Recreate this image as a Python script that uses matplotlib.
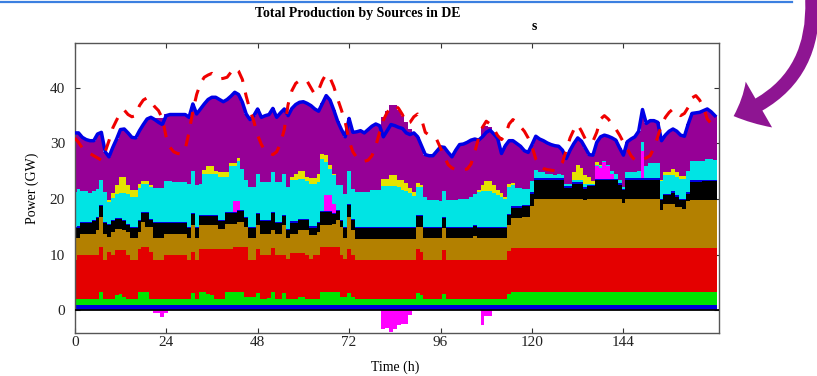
import numpy as np
import matplotlib
matplotlib.use('Agg')
import matplotlib.pyplot as plt
from matplotlib.patches import FancyArrowPatch
from matplotlib.lines import Line2D

plt.rcParams['font.family'] = ['Liberation Serif', 'DejaVu Serif']

# ---------------- data (GW, hourly, one week) ----------------
hours = np.arange(169)

hydro = [
    1.0, 1.0, 1.0, 1.0, 1.0, 1.0, 1.0, 1.0, 1.0, 1.0,
    1.0, 1.0, 1.0, 1.0, 1.0, 1.0, 1.0, 1.0, 1.0, 1.0,
    1.0, 1.0, 1.0, 1.0, 1.0, 1.0, 1.0, 1.0, 1.0, 1.0,
    1.0, 1.0, 1.0, 1.0, 1.0, 1.0, 1.0, 1.0, 1.0, 1.0,
    1.0, 1.0, 1.0, 1.0, 1.0, 1.0, 1.0, 1.0, 1.0, 1.0,
    1.0, 1.0, 1.0, 1.0, 1.0, 1.0, 1.0, 1.0, 1.0, 1.0,
    1.0, 1.0, 1.0, 1.0, 1.0, 1.0, 1.0, 1.0, 1.0, 1.0,
    1.0, 1.0, 1.0, 1.0, 1.0, 1.0, 1.0, 1.0, 1.0, 1.0,
    1.0, 1.0, 1.0, 1.0, 1.0, 1.0, 1.0, 1.0, 1.0, 1.0,
    1.0, 1.0, 1.0, 1.0, 1.0, 1.0, 1.0, 1.0, 1.0, 1.0,
    1.0, 1.0, 1.0, 1.0, 1.0, 1.0, 1.0, 1.0, 1.0, 1.0,
    1.0, 1.0, 1.0, 1.0, 1.0, 1.0, 1.0, 1.0, 1.0, 1.0,
    1.0, 1.0, 1.0, 1.0, 1.0, 1.0, 1.0, 1.0, 1.0, 1.0,
    1.0, 1.0, 1.0, 1.0, 1.0, 1.0, 1.0, 1.0, 1.0, 1.0,
    1.0, 1.0, 1.0, 1.0, 1.0, 1.0, 1.0, 1.0, 1.0, 1.0,
    1.0, 1.0, 1.0, 1.0, 1.0, 1.0, 1.0, 1.0, 1.0, 1.0,
    1.0, 1.0, 1.0, 1.0, 1.0, 1.0, 1.0, 1.0, 1.0]

biomass = [
    1.0, 1.0, 1.0, 1.0, 1.0, 1.0, 1.0, 2.4, 1.0, 1.0,
    1.0, 1.7, 2.0, 1.4, 1.0, 1.0, 1.0, 2.4, 2.4, 2.4,
    1.0, 1.0, 1.0, 1.0, 1.0, 1.0, 1.0, 1.0, 1.0, 1.0,
    1.0, 2.2, 1.0, 2.4, 2.4, 2.0, 1.7, 1.0, 1.0, 1.0,
    2.4, 2.4, 2.4, 2.4, 2.4, 1.4, 1.4, 1.4, 2.2, 1.0,
    1.0, 1.2, 2.4, 1.0, 1.0, 2.2, 1.0, 1.0, 1.0, 1.5,
    1.5, 1.0, 1.0, 1.0, 1.0, 2.4, 2.4, 2.4, 2.4, 2.4,
    1.4, 1.4, 2.2, 1.4, 1.0, 1.0, 1.0, 1.0, 1.0, 1.0,
    1.0, 1.0, 1.0, 1.0, 1.0, 1.0, 1.0, 1.0, 1.0, 1.0,
    2.2, 1.8, 1.0, 1.0, 1.0, 1.0, 1.0, 1.9, 1.0, 1.0,
    1.0, 1.0, 1.0, 1.0, 1.0, 1.0, 1.0, 1.0, 1.0, 1.0,
    1.0, 1.0, 1.0, 1.0, 1.9, 2.4, 2.4, 2.4, 2.4, 2.4,
    2.4, 2.4, 2.4, 2.4, 2.4, 2.4, 2.4, 2.4, 2.4, 2.4,
    2.4, 2.4, 2.4, 2.4, 2.4, 2.4, 2.4, 2.4, 2.4, 2.4,
    2.4, 2.4, 2.4, 2.4, 2.4, 2.4, 2.4, 2.4, 2.4, 2.4,
    2.4, 2.4, 2.4, 2.4, 2.4, 2.4, 2.4, 2.4, 2.4, 2.4,
    2.4, 2.4, 2.4, 2.4, 2.4, 2.4, 2.4, 2.4, 2.4]

nuclear = [
    7.0, 7.9, 7.9, 7.9, 7.9, 7.9, 7.9, 8.0, 7.0, 8.5,
    7.9, 8.1, 7.8, 8.4, 7.9, 7.0, 7.0, 7.7, 8.0, 8.0,
    8.5, 7.0, 7.0, 7.0, 7.9, 7.9, 7.9, 7.9, 7.9, 7.9,
    7.0, 7.3, 7.0, 7.7, 7.7, 8.1, 8.4, 9.1, 9.1, 9.1,
    7.7, 7.7, 8.0, 8.0, 8.0, 9.0, 6.7, 6.7, 7.8, 8.0,
    8.0, 7.8, 7.8, 8.0, 8.0, 6.8, 7.2, 8.4, 8.4, 7.9,
    7.9, 8.0, 7.2, 8.0, 8.0, 8.0, 8.0, 8.0, 8.0, 8.0,
    7.6, 6.8, 7.9, 7.6, 7.0, 7.0, 7.0, 7.0, 7.0, 7.0,
    7.0, 7.0, 7.0, 7.0, 7.0, 7.0, 7.0, 7.0, 7.0, 7.0,
    7.9, 7.7, 7.0, 7.0, 7.0, 7.0, 7.0, 7.9, 7.0, 7.0,
    7.0, 7.0, 7.0, 7.0, 7.0, 7.0, 7.0, 7.0, 7.0, 7.0,
    7.0, 7.0, 7.0, 7.0, 7.7, 7.9, 7.9, 7.9, 7.9, 7.9,
    7.9, 7.9, 7.9, 7.9, 7.9, 7.9, 7.9, 7.9, 7.9, 7.9,
    7.9, 7.9, 7.9, 7.9, 7.9, 7.9, 7.9, 7.9, 7.9, 7.9,
    7.9, 7.9, 7.9, 7.9, 7.9, 7.9, 7.9, 7.9, 7.9, 7.9,
    7.9, 7.9, 7.9, 7.9, 7.9, 7.9, 7.9, 7.9, 7.9, 7.9,
    7.9, 7.9, 7.9, 7.9, 7.9, 7.9, 7.9, 7.9, 7.9]

lignite = [
    4.0, 3.2, 3.9, 3.9, 3.9, 3.9, 4.5, 5.4, 4.8, 2.7,
    4.2, 3.9, 3.9, 3.6, 4.2, 4.0, 4.0, 3.0, 4.5, 3.6,
    4.5, 4.0, 4.0, 4.0, 3.9, 3.9, 3.9, 3.9, 3.9, 3.9,
    4.0, 4.9, 4.0, 4.2, 4.2, 4.2, 4.2, 4.2, 3.6, 3.6,
    4.5, 4.5, 4.2, 4.5, 4.5, 3.6, 3.9, 3.9, 4.4, 3.8,
    3.8, 3.8, 3.2, 3.8, 3.8, 5.3, 3.8, 3.4, 3.4, 4.0,
    4.0, 4.4, 4.3, 3.5, 4.1, 4.0, 4.0, 4.0, 4.2, 4.8,
    5.0, 3.8, 5.7, 4.4, 3.9, 3.9, 3.9, 3.9, 3.9, 3.9,
    3.9, 3.9, 3.9, 3.9, 3.9, 3.9, 3.9, 3.9, 3.9, 3.9,
    3.9, 4.5, 4.0, 4.0, 4.0, 4.0, 4.0, 4.0, 4.0, 4.0,
    4.0, 4.0, 4.0, 4.0, 4.0, 4.3, 4.0, 4.0, 4.0, 4.0,
    4.0, 4.0, 4.0, 4.0, 4.7, 5.3, 5.3, 5.3, 5.5, 5.5,
    7.4, 8.7, 8.7, 8.7, 8.7, 8.7, 8.7, 8.7, 8.7, 8.7,
    8.7, 8.7, 8.7, 8.7, 8.5, 8.7, 8.7, 8.7, 8.7, 8.7,
    8.7, 8.7, 8.7, 8.7, 8.0, 8.7, 8.7, 8.7, 8.7, 8.7,
    8.7, 8.7, 8.7, 8.7, 6.7, 7.9, 7.9, 7.9, 7.3, 7.3,
    7.0, 8.3, 8.5, 8.5, 8.5, 8.5, 8.5, 8.5, 8.5]

hard_coal = [
    1.8, 1.8, 1.9, 1.9, 1.9, 2.3, 2.2, 2.0, 1.9, 2.2,
    1.9, 1.7, 1.7, 1.7, 1.3, 1.8, 1.8, 2.0, 1.6, 2.5,
    1.3, 2.7, 2.7, 2.7, 1.9, 1.9, 1.9, 1.9, 1.9, 1.9,
    1.8, 1.9, 1.8, 1.7, 1.7, 1.7, 1.7, 1.7, 1.4, 1.4,
    1.9, 1.9, 1.9, 2.0, 2.0, 1.6, 1.8, 1.8, 1.9, 2.2,
    2.2, 2.2, 3.1, 1.9, 1.9, 1.7, 1.5, 2.0, 2.0, 1.9,
    1.9, 1.9, 1.4, 1.4, 1.6, 2.2, 2.2, 2.2, 1.7, 1.6,
    1.0, 1.8, 2.2, 1.9, 1.9, 1.9, 1.9, 1.9, 1.9, 1.9,
    1.9, 1.9, 1.9, 1.9, 1.9, 1.9, 1.9, 1.9, 1.9, 1.9,
    2.0, 2.0, 1.8, 1.8, 1.8, 1.8, 1.8, 1.8, 1.8, 1.8,
    1.8, 1.8, 1.8, 1.8, 1.8, 1.8, 1.8, 1.8, 1.8, 1.8,
    1.8, 1.8, 1.8, 1.8, 1.9, 1.8, 1.8, 1.8, 1.9, 1.9,
    2.3, 3.5, 3.5, 3.5, 3.5, 3.5, 3.5, 3.5, 3.5, 2.0,
    2.0, 2.8, 2.8, 2.8, 2.1, 2.3, 2.3, 3.4, 3.4, 3.4,
    3.4, 3.4, 3.4, 2.6, 2.3, 3.5, 3.5, 3.5, 3.5, 3.5,
    3.5, 3.5, 3.5, 3.5, 1.8, 1.5, 1.5, 1.9, 1.8, 1.2,
    1.5, 1.4, 3.3, 3.3, 3.3, 3.4, 3.4, 3.4, 3.4]

gas = [
    0.2, 0.2, 0.2, 0.2, 0.2, 0.2, 0.2, 0.2, 0.2, 0.2,
    0.2, 0.2, 0.2, 0.2, 0.2, 0.2, 0.2, 0.2, 0.2, 0.2,
    0.2, 0.2, 0.2, 0.2, 0.2, 0.2, 0.2, 0.2, 0.2, 0.2,
    0.2, 0.2, 0.2, 0.2, 0.2, 0.2, 0.2, 0.2, 0.2, 0.2,
    0.2, 0.2, 0.2, 0.2, 0.2, 0.2, 0.2, 0.2, 0.2, 0.2,
    0.2, 0.2, 0.2, 0.2, 0.2, 0.2, 0.2, 0.2, 0.2, 0.2,
    0.2, 0.2, 0.2, 0.2, 0.2, 0.2, 0.2, 0.2, 0.2, 0.2,
    0.2, 0.2, 0.2, 0.2, 0.2, 0.2, 0.2, 0.2, 0.2, 0.2,
    0.2, 0.2, 0.2, 0.2, 0.2, 0.2, 0.2, 0.2, 0.2, 0.2,
    0.2, 0.2, 0.2, 0.2, 0.2, 0.2, 0.2, 0.2, 0.2, 0.2,
    0.2, 0.2, 0.2, 0.2, 0.2, 0.2, 0.2, 0.2, 0.2, 0.2,
    0.2, 0.2, 0.2, 0.2, 0.2, 0.3, 0.3, 0.3, 0.3, 0.3,
    0.3, 0.3, 0.3, 0.3, 0.3, 0.3, 0.3, 0.3, 0.3, 0.3,
    0.3, 0.3, 0.3, 0.3, 0.3, 0.3, 0.3, 0.3, 0.3, 0.3,
    0.3, 0.3, 0.3, 0.3, 0.3, 0.3, 0.3, 0.3, 0.3, 0.3,
    0.3, 0.3, 0.3, 0.3, 0.3, 0.3, 0.3, 0.3, 0.3, 0.3,
    0.3, 0.3, 0.3, 0.3, 0.3, 0.3, 0.3, 0.3, 0.3]

pumped_storage = [
    0, 0, 0, 0, 0, 0, 0, 0, 0, 0,
    0, 0, 0, 0, 0, 0, 0, 0, 0, 0,
    0, 0, 0, 0, 0, 0, 0, 0, 0, 0,
    0, 0, 0, 0, 0, 0, 0, 0, 0, 0,
    0, 0, 1.9, 1.5, 0, 0, 0, 0, 0, 0,
    0, 0, 0, 0, 0, 0, 0, 0, 0, 0,
    0, 0, 0, 0, 0, 0, 3.0, 3.0, 1.7, 0,
    0, 0, 0, 0, 0, 0, 0, 0, 0, 0,
    0, 0, 0, 0, 0, 0, 0, 0, 0, 0,
    0, 0, 0, 0, 0, 0, 0, 0, 0, 0,
    0, 0, 0, 0, 0, 0, 0, 0, 0, 0,
    0, 0, 0, 0, 0, 0, 0, 0, 0, 0,
    0, 0, 0, 0, 0, 0, 0, 0, 0, 0,
    0, 0, 0, 0, 0, 0, 0, 2.2, 1.9, 2.9,
    2.2, 0.9, 0, 0, 0, 0, 0, 0, 0, 4.8,
    0, 0, 0, 0, 0, 0, 0, 0, 0, 0,
    0, 0, 0, 0, 0, 0, 0, 0, 0]

wind = [
    6.3, 6.7, 5.5, 5.5, 5.2, 5.2, 5.1, 4.4, 5.4, 3.9,
    4.0, 4.4, 4.5, 4.8, 5.4, 5.4, 5.4, 5.7, 5.1, 5.1,
    5.7, 6.1, 6.1, 6.1, 7.3, 7.3, 7.2, 7.2, 7.2, 7.2,
    7.8, 7.5, 7.5, 5.6, 7.4, 7.4, 7.4, 7.4, 7.7, 7.7,
    6.3, 8.3, 6.4, 7.2, 7.3, 6.7, 7.2, 7.2, 7.1, 6.9,
    6.9, 6.9, 7.2, 7.2, 7.2, 7.3, 7.5, 7.4, 7.4, 7.2,
    7.2, 6.7, 7.7, 7.7, 7.2, 9.4, 5.8, 4.6, 5.1, 4.5,
    6.3, 6.0, 5.8, 5.4, 6.3, 6.3, 6.3, 6.3, 6.7, 6.7,
    6.7, 7.3, 7.3, 7.3, 7.3, 7.2, 6.6, 6.4, 6.1, 5.5,
    5.0, 5.0, 5.4, 4.9, 4.9, 4.9, 4.6, 4.6, 4.8, 4.8,
    4.8, 5.1, 5.1, 5.1, 5.4, 5.7, 6.3, 6.5, 6.5, 6.5,
    6.1, 5.7, 5.3, 5.0, 4.8, 3.9, 3.3, 3.3, 2.9, 2.9,
    1.9, 1.5, 1.1, 1.1, 0.8, 0.8, 0.6, 0.7, 0.6, 0.5,
    0.5, 0.3, 0.4, 0.4, 0.6, 0.2, 0.2, 0.3, 0.4, 0.3,
    0.3, 0.4, 0.9, 0.5, 0.3, 1.1, 1.1, 1.1, 1.3, 1.6,
    2.2, 2.7, 2.7, 2.7, 3.1, 3.3, 3.3, 3.0, 3.3, 3.6,
    3.6, 3.8, 3.5, 3.5, 3.5, 3.4, 3.7, 3.7, 3.6]

solar = [
    0, 0, 0, 0, 0, 0, 0, 0, 0, 0.3,
    0.9, 1.5, 2.9, 2.9, 1.5, 1.2, 1.2, 0.8, 0.4, 0.4,
    0.4, 0, 0, 0, 0, 0, 0, 0, 0, 0,
    0, 0, 0, 0, 0.7, 1.4, 1.4, 0.5, 0.9, 0.9,
    0.9, 0.5, 0.5, 0.6, 0, 0, 0, 0, 0, 0,
    0, 0, 0, 0, 0, 0, 0, 0.5, 1.2, 1.4,
    1.4, 0.8, 1.0, 1.0, 1.5, 0.9, 1.4, 0.8, 0.3, 0,
    0, 0, 0, 0, 0, 0, 0, 0, 0, 0,
    0, 1.4, 1.4, 2.0, 2.0, 1.3, 1.9, 1.5, 0.9, 0.8,
    0.7, 0.3, 0, 0, 0, 0, 0, 0, 0, 0,
    0, 0, 0, 0, 0, 0, 0.4, 1.1, 1.7, 1.7,
    1.4, 1.0, 0.8, 0.4, 0.6, 0.3, 0, 0, 0, 0,
    0, 0, 0, 0, 0, 0, 0, 0, 0, 0,
    0, 1.5, 2.7, 2.1, 1.6, 1.2, 0.5, 0.4, 0.1, 0,
    0, 0, 0, 0, 0, 0, 0, 0, 0, 0,
    0, 0, 0, 0, 0.3, 0.6, 0.6, 1.0, 0.9, 0.4,
    0.4, 0, 0, 0, 0, 0, 0, 0, 0]

other = [
    10.6, 10.2, 9.7, 9.3, 9.4, 9.0, 9.8, 8.6, 7.2, 7.8,
    8.2, 8.3, 8.5, 8.6, 9.4, 9.5, 9.4, 9.5, 10.2, 11.2,
    12.1, 12.6, 12.6, 12.5, 12.1, 12.0, 12.1, 12.1, 12.1, 12.1,
    11.9, 12.1, 12.8, 13.4, 11.8, 11.9, 12.3, 13.2, 13.0, 12.6,
    13.0, 12.0, 12.7, 11.4, 12.0, 11.8, 12.1, 12.8, 11.6, 11.6,
    11.9, 12.1, 11.4, 11.6, 12.4, 11.7, 12.8, 12.4, 12.4, 12.3,
    12.4, 13.2, 13.0, 12.4, 11.2, 9.1, 10.6, 11.6, 11.4, 11.5,
    10.0, 10.2, 9.5, 10.1, 10.8, 11.0, 10.6, 11.2, 11.4, 11.8,
    11.7, 11.0, 12.2, 12.6, 12.6, 12.5, 11.5, 10.9, 10.6, 10.6,
    8.3, 7.1, 7.6, 7.9, 7.9, 8.7, 9.8, 7.9, 8.6, 7.8,
    9.0, 9.7, 9.8, 10.1, 10.2, 9.8, 8.9, 10.4, 10.0, 9.7,
    9.2, 9.2, 7.1, 9.2, 7.7, 7.6, 8.0, 7.5, 6.8, 6.5,
    6.6, 6.0, 5.9, 5.6, 5.5, 5.2, 5.2, 5.0, 4.4, 4.5,
    6.0, 5.1, 4.8, 4.8, 4.8, 4.0, 4.6, 3.6, 5.1, 4.6,
    5.1, 6.0, 6.0, 5.8, 5.7, 5.4, 5.9, 6.3, 7.1, 5.9,
    7.6, 7.6, 7.6, 7.3, 7.0, 6.6, 7.3, 7.2, 7.3, 7.4,
    7.2, 8.4, 8.5, 8.6, 8.7, 9.0, 9.0, 8.5, 7.9]

pumping_load = [
    0, 0, 0, 0, 0, 0, 0, 0, 0, 0,
    0, 0, 0, 0, 0, 0, 0, 0, 0, 0,
    0, -0.4, -0.4, -1.2, -0.4, 0, 0, 0, 0, 0,
    0, 0, 0, 0, 0, 0, 0, 0, 0, 0,
    0, 0, 0, 0, 0, 0, 0, 0, 0, 0,
    0, 0, 0, 0, 0, 0, 0, 0, 0, 0,
    0, 0, 0, 0, 0, 0, 0, 0, 0, 0,
    0, 0, 0, 0, 0, 0, 0, 0, 0, 0,
    0, -3.3, -3.1, -3.9, -3.4, -2.7, -2.4, -2.5, -0.9, 0,
    0, 0, 0, 0, 0, 0, 0, 0, 0, 0,
    0, 0, 0, 0, 0, 0, 0, -2.7, -1.0, -1.0,
    0, 0, 0, 0, 0, 0, 0, 0, 0, 0,
    0, 0, 0, 0, 0, 0, 0, 0, 0, 0,
    0, 0, 0, 0, 0, 0, 0, 0, 0, 0,
    0, 0, 0, 0, 0, 0, 0, 0, 0, 0,
    0, 0, 0, 0, 0, 0, 0, 0, 0, 0,
    0, 0, 0, 0, 0, 0, 0, 0, 0]

net_production = [
    31.9, 31.9, 31.1, 30.7, 30.5, 30.5, 31.7, 32.0, 28.5, 27.6,
    29.3, 30.8, 32.5, 32.6, 31.9, 31.1, 31.0, 32.3, 33.4, 34.4,
    34.7, 34.3, 33.8, 33.4, 35.0, 35.2, 35.2, 35.2, 35.2, 35.2,
    34.7, 37.1, 35.3, 36.2, 37.1, 37.9, 38.3, 38.3, 37.9, 37.5,
    37.9, 38.5, 39.2, 38.8, 37.4, 35.3, 34.3, 35.0, 36.2, 34.7,
    35.0, 35.2, 36.3, 34.7, 35.5, 36.2, 35.0, 36.3, 37.0, 37.4,
    37.5, 37.2, 36.8, 36.2, 35.8, 37.2, 38.6, 37.8, 36.0, 34.0,
    32.5, 31.2, 34.5, 32.0, 32.1, 32.3, 31.9, 32.5, 33.1, 33.5,
    33.2, 31.2, 32.3, 33.4, 33.2, 32.9, 32.7, 31.9, 31.6, 31.9,
    31.2, 29.6, 28.0, 27.8, 27.8, 28.6, 29.4, 29.3, 28.4, 27.6,
    28.8, 29.8, 29.9, 30.2, 30.6, 30.8, 30.6, 31.2, 32.0, 32.4,
    31.7, 30.9, 28.2, 29.6, 30.5, 30.5, 30.0, 29.5, 28.7, 28.4,
    29.8, 31.3, 30.8, 30.5, 30.1, 29.8, 29.6, 29.5, 28.8, 27.3,
    28.8, 30.0, 31.0, 30.4, 29.2, 28.0, 27.9, 30.2, 31.2, 31.5,
    31.3, 31.0, 30.6, 29.2, 27.9, 30.3, 30.8, 31.2, 32.2, 36.1,
    33.6, 34.1, 34.1, 33.8, 30.5, 31.5, 32.2, 32.6, 32.2, 31.5,
    31.3, 33.5, 35.4, 35.5, 35.6, 35.9, 36.2, 35.7, 35.0]

load = [
    31.0, 30.2, 29.2, 28.6, 28.2, 27.8, 27.4, 27.0, 28.5, 30.5,
    32.8, 34.2, 35.5, 36.0, 35.2, 34.8, 35.0, 36.8, 37.8, 38.2,
    37.5, 36.6, 35.9, 34.5, 31.2, 29.3, 28.5, 28.2, 28.1, 29.0,
    32.0, 35.8, 38.8, 40.8, 41.9, 42.3, 42.6, 42.0, 41.6, 41.7,
    41.9, 42.8, 43.6, 43.0, 41.5, 38.5, 36.0, 34.0, 31.5, 29.8,
    28.6, 28.3, 28.0, 28.5, 30.0, 32.5, 37.0, 39.5, 40.8, 41.3,
    41.5, 41.2, 40.0, 38.8, 39.6, 41.3, 42.5, 41.8, 40.2, 38.0,
    36.0, 33.8, 30.5, 28.5, 27.5, 26.9, 26.8, 27.0, 27.8, 29.5,
    32.0, 34.2, 35.6, 36.4, 36.9, 36.3, 35.2, 33.6, 33.8, 34.8,
    35.3, 34.4, 32.0, 31.5, 31.2, 30.7, 29.2, 27.6, 26.2, 25.6,
    25.3, 25.2, 25.3, 25.4, 26.3, 28.5, 31.0, 32.9, 34.0, 33.5,
    32.6, 31.4, 30.7, 31.5, 33.5, 34.3, 33.8, 33.0, 32.2, 31.0,
    29.5, 27.2, 26.0, 25.5, 25.3, 25.2, 25.1, 25.6, 26.6, 28.8,
    31.0, 32.5, 33.4, 32.2, 30.8, 30.2, 30.4, 32.0, 34.4, 35.0,
    34.4, 33.5, 32.6, 31.5, 30.2, 29.0, 27.8, 27.0, 26.8, 27.1,
    27.4, 27.8, 29.2, 31.2, 33.3, 34.7, 35.6, 36.2, 35.7, 35.0,
    35.4, 36.5, 38.2, 38.6, 37.8, 36.5, 34.4, 33.6, 33.2]

x_ticks = [0, 24, 48, 72, 96, 120, 144]
y_ticks = [0, 10, 20, 30, 40]

source_names = ['Hydro', 'Biomass', 'Nuclear', 'Lignite', 'Hard coal', 'Gas',
                'Pumped storage', 'Wind', 'Solar', 'Other']
source_values = [hydro, biomass, nuclear, lignite, hard_coal, gas,
                 pumped_storage, wind, solar, other]
source_colors = ['#0000dc', '#00e400', '#e40000', '#b38000', '#000000', '#0000dc',
                 '#ff00ff', '#00e4e4', '#e4e400', '#960096']

for v in source_values + [pumping_load, net_production, load]:
    assert len(v) == len(hours), len(v)

# ---------------- figure ----------------
fig = plt.figure(figsize=(8.17, 3.76), dpi=100)
ax = fig.add_axes([74.7 / 817, 1 - 332.7 / 376, 644.0 / 817, 289.4 / 376])

edges = np.append(hours - 0.5, hours[-1] + 0.5)
cum = np.cumsum(np.array(source_values, dtype=float), axis=0)

# draw from the top of the stack downwards so lower layers cover upper ones
for i in range(len(source_values) - 1, -1, -1):
    ax.stairs(cum[i], edges, baseline=0, fill=True, color=source_colors[i],
              linewidth=0, antialiased=False, zorder=2)

ax.stairs(np.array(pumping_load, float), edges, baseline=0, fill=True,
          color='#ff00ff', linewidth=0, antialiased=False, zorder=2)

ax.axhline(0, color='black', lw=1.3, zorder=3)

ax.plot(hours, net_production, color='#0000e6', lw=2.5, zorder=4,
        solid_joinstyle='round')
ax.plot(hours, load, color='#f00000', lw=2.2, zorder=5,
        linestyle=(0, (3.9, 3.6)))

ax.set_xlim(0, 169)
ax.set_ylim(-4, 48)
ax.set_xticks(x_ticks)
ax.set_yticks(y_ticks)
ax.tick_params(direction='in', top=True, right=True, length=3.8, width=0.8,
               color='#333333', labelsize=11, labelcolor='#222222')
ax.tick_params(axis='y', pad=7)
ax.tick_params(axis='x', pad=2.5)
for s in ax.spines.values():
    s.set_color('#555555')
    s.set_linewidth(1.0)

fig.text(357.5 / 817, 1 - 14 / 376, 'Total Production by Sources in DE',
         ha='center', va='center', fontsize=10, fontweight='bold')
fig.text(534 / 817, 1 - 27 / 376, 's', ha='center', va='center',
         fontsize=10, fontweight='bold')
fig.text(32 / 817, 1 - 188 / 376, 'Power (GW)', rotation=90,
         ha='center', va='center', fontsize=10)
fig.text(395 / 817, 1 - 367 / 376, 'Time (h)', ha='center', va='center',
         fontsize=10)

# decorative top rule and curved arrow
fig.add_artist(Line2D([0, 792 / 817], [1 - 2 / 376, 1 - 2 / 376],
                      transform=fig.transFigure, color='#3b7fe0', lw=1.6))
arrow = FancyArrowPatch((812 / 817, 1 + 3 / 376), (731 / 817, 1 - 117 / 376),
                        transform=fig.transFigure,
                        connectionstyle='arc3,rad=-0.38',
                        arrowstyle='simple,head_length=2.0,head_width=3.8,tail_width=1.0',
                        mutation_scale=10, color='#8e1592', lw=0)
fig.add_artist(arrow)

fig.savefig('out.png', dpi=100)
